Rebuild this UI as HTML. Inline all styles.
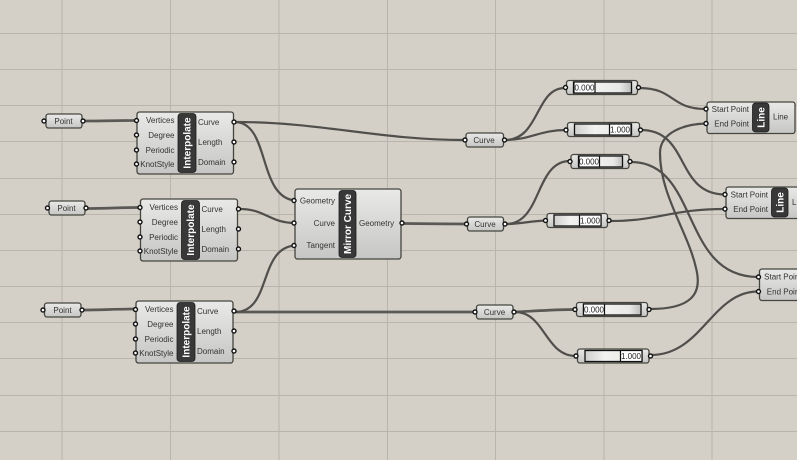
<!DOCTYPE html>
<html><head><meta charset="utf-8">
<style>
html,body{margin:0;padding:0;background:#d4d0c8;width:797px;height:460px;overflow:hidden}
svg{display:block}
text{font-family:"Liberation Sans",sans-serif;font-size:8px;fill:#333}
.r{text-anchor:end}
.c{text-anchor:middle}
.t{fill:#fff;font-weight:bold;font-size:10px;text-anchor:middle}
.v{font-size:8px;fill:#222;text-anchor:middle}
.g path{stroke:#b8b5ad;stroke-width:1;fill:none}
.w path{fill:none;stroke:#504f4c;stroke-width:2.2}
.th path{fill:none;stroke:#5a5955;stroke-width:2.7}
.p circle{fill:#fff;stroke:#111;stroke-width:1.4}
.b{fill:url(#gb);stroke:#45453f;stroke-width:1.3}
.d{fill:#383838;stroke:#1c1c1c;stroke-width:.8}
.sb{fill:url(#sl);stroke:#111;stroke-width:1.3}
.vb{fill:#fff;stroke:#111;stroke-width:1.2}
</style></head><body>
<svg width="797" height="460" viewBox="0 0 797 460" xmlns="http://www.w3.org/2000/svg">
<defs>
<linearGradient id="gb" x1="0" y1="0" x2="0" y2="1"><stop offset="0" stop-color="#e9e9e7"/><stop offset="1" stop-color="#c6c6c4"/></linearGradient>
<linearGradient id="sl" x1="0" y1="0" x2="1" y2="0"><stop offset="0" stop-color="#cfcfcd"/><stop offset=".35" stop-color="#f2f2f0"/><stop offset=".8" stop-color="#e8e8e6"/><stop offset="1" stop-color="#bdbdbb"/></linearGradient>
</defs>
<rect width="797" height="460" fill="#d4d0c8"/>
<g class="g">
<path d="M62 0V460M170.500 0V460M279 0V460M387.500 0V460M495.500 0V460M604 0V460M712 0V460"/>
<path d="M0 33.500H797M0 69.500H797M0 105.500H797M0 141.500H797M0 178.500H797M0 214.500H797M0 250.500H797M0 286.500H797M0 322.500H797M0 358.500H797M0 395.500H797M0 431.500H797"/>
</g>
<g class="th">
<path d="M84 121C105 121 115 120.500 136 120.500"/>
<path d="M87 208.500C108 208.500 118 207.500 139 207.500"/>
<path d="M83 310C104 310 114 309 135 309"/>
<path d="M235 312H475"/>
<path d="M403 223.500C425 223.500 445 224 466 224"/>
<path d="M515 312C535 311 555 309.500 575 309.500"/>
</g>
<g class="w">
<path d="M236 122C270 124 258 197 295 200.500"/>
<path d="M236 122C320 122 380 140 464 140"/>
<path d="M240 209C265 209 270 223 295 223"/>
<path d="M235 312C272 312 258 248 295 245.500"/>
<path d="M505 140C540 140 535 88 565 88"/>
<path d="M505 140C530 140 540 130 566 130"/>
<path d="M506 224C542 224 535 161 570 161"/>
<path d="M506 224C520 224 530 221 546 220.500"/>
<path d="M515 312C545 312 545 356 576 356"/>
<path d="M639 88C675 88 670 109 706 109"/>
<path d="M641 130C690 130 675 194 725 194.500"/>
<path d="M631 162C700 162 680 277 758 277"/>
<path d="M610 221C660 221 670 209 725 209"/>
<path d="M651 355C702 355 712 291.500 758 291.500"/>
<path d="M650 309C690 309 703 295 696 268C688 232 660 195 660 153C660 132 685 124 706 123.500"/>
</g>

<!-- Point params -->
<rect class="b" x="46" y="114" width="36" height="14" rx="2.500"/><text class="c" x="63.500" y="124">Point</text>
<rect class="b" x="49" y="201" width="36" height="14" rx="2.500"/><text class="c" x="66.500" y="211">Point</text>
<rect class="b" x="44.500" y="303" width="36.500" height="14" rx="2.500"/><text class="c" x="62.500" y="313">Point</text>
<g class="p"><circle cx="44" cy="121" r="2"/><circle cx="83" cy="121" r="2"/><circle cx="47.500" cy="208" r="2"/><circle cx="86" cy="208" r="2"/><circle cx="43" cy="310" r="2"/><circle cx="82" cy="310" r="2"/></g>

<!-- Interpolate 1 -->
<g transform="translate(137 112)">
<rect class="b" x="0" y="0" width="96.500" height="62" rx="2.500"/>
<rect class="d" x="41" y="1.500" width="18" height="59" rx="3"/>
<text class="t" transform="translate(53.500 31) rotate(-90)">Interpolate</text>
<text class="r" x="37.500" y="11">Vertices</text><text class="r" x="37.500" y="26">Degree</text><text class="r" x="37.500" y="41">Periodic</text><text class="r" x="37.500" y="55">KnotStyle</text>
<text x="61" y="13">Curve</text><text x="61" y="33">Length</text><text x="61" y="53">Domain</text>
<g class="p"><circle cx="-.5" cy="8.500" r="2"/><circle cx="-.5" cy="23" r="2"/><circle cx="-.5" cy="38" r="2"/><circle cx="-.5" cy="52" r="2"/><circle cx="97" cy="10" r="2"/><circle cx="97" cy="30" r="2"/><circle cx="97" cy="50" r="2"/></g>
</g>
<!-- Interpolate 2 -->
<g transform="translate(140.500 199)">
<rect class="b" x="0" y="0" width="97" height="62" rx="2.500"/>
<rect class="d" x="41" y="1.500" width="18" height="59" rx="3"/>
<text class="t" transform="translate(53.500 31) rotate(-90)">Interpolate</text>
<text class="r" x="37.500" y="11">Vertices</text><text class="r" x="37.500" y="26">Degree</text><text class="r" x="37.500" y="41">Periodic</text><text class="r" x="37.500" y="55">KnotStyle</text>
<text x="61" y="13">Curve</text><text x="61" y="33">Length</text><text x="61" y="53">Domain</text>
<g class="p"><circle cx="-.5" cy="8.500" r="2"/><circle cx="-.5" cy="23" r="2"/><circle cx="-.5" cy="38" r="2"/><circle cx="-.5" cy="52" r="2"/><circle cx="98" cy="10" r="2"/><circle cx="98" cy="30" r="2"/><circle cx="98" cy="50" r="2"/></g>
</g>
<!-- Interpolate 3 -->
<g transform="translate(136 301)">
<rect class="b" x="0" y="0" width="97" height="62" rx="2.500"/>
<rect class="d" x="41" y="1.500" width="18" height="59" rx="3"/>
<text class="t" transform="translate(53.500 31) rotate(-90)">Interpolate</text>
<text class="r" x="37.500" y="11">Vertices</text><text class="r" x="37.500" y="26">Degree</text><text class="r" x="37.500" y="41">Periodic</text><text class="r" x="37.500" y="55">KnotStyle</text>
<text x="61" y="13">Curve</text><text x="61" y="33">Length</text><text x="61" y="53">Domain</text>
<g class="p"><circle cx="-.5" cy="8.500" r="2"/><circle cx="-.5" cy="23" r="2"/><circle cx="-.5" cy="38" r="2"/><circle cx="-.5" cy="52" r="2"/><circle cx="98" cy="10" r="2"/><circle cx="98" cy="30" r="2"/><circle cx="98" cy="50" r="2"/></g>
</g>
<!-- Mirror Curve -->
<rect class="b" x="295" y="189" width="106" height="70" rx="2.500"/>
<rect class="d" x="339" y="190.500" width="17" height="67" rx="3"/>
<text class="t" transform="translate(351 224) rotate(-90)">Mirror Curve</text>
<text class="r" x="335" y="203.500">Geometry</text><text class="r" x="335" y="226">Curve</text><text class="r" x="335" y="248">Tangent</text>
<text x="359" y="226">Geometry</text>
<g class="p"><circle cx="294" cy="200.500" r="2"/><circle cx="294" cy="223" r="2"/><circle cx="294" cy="245.500" r="2"/><circle cx="402" cy="223" r="2"/></g>

<!-- Curve params -->
<rect class="b" x="466" y="133" width="37.500" height="14" rx="2.500"/><text class="c" x="484" y="143">Curve</text>
<rect class="b" x="467.500" y="217" width="36" height="14" rx="2.500"/><text class="c" x="485" y="227">Curve</text>
<rect class="b" x="476.500" y="305" width="36.500" height="14" rx="2.500"/><text class="c" x="494.500" y="315">Curve</text>
<g class="p"><circle cx="465" cy="140" r="2"/><circle cx="504.500" cy="140" r="2"/><circle cx="466.500" cy="224" r="2"/><circle cx="505" cy="224" r="2"/><circle cx="475" cy="312" r="2"/><circle cx="514" cy="312" r="2"/></g>

<!-- Sliders -->
<rect class="b" x="566.500" y="80.500" width="71" height="14" rx="2.500"/><rect class="sb" x="573.500" y="82" width="58" height="11"/><rect class="vb" x="574" y="82" width="21" height="11"/><text class="v" x="584.500" y="90.500">0.000</text>
<rect class="b" x="567.500" y="122.500" width="72" height="14" rx="2.500"/><rect class="sb" x="574.500" y="124" width="57" height="11"/><rect class="vb" x="609.500" y="124" width="21.500" height="11"/><text class="v" x="620" y="132.500">1.000</text>
<rect class="b" x="571" y="154.500" width="58" height="14" rx="2.500"/><rect class="sb" x="578.500" y="156" width="44" height="11"/><rect class="vb" x="579" y="156" width="20.500" height="11"/><text class="v" x="589" y="164.500">0.000</text>
<rect class="b" x="547" y="213.500" width="60.500" height="14" rx="2.500"/><rect class="sb" x="554" y="215" width="47" height="11"/><rect class="vb" x="579.500" y="215" width="21.500" height="11"/><text class="v" x="590" y="223.500">1.000</text>
<rect class="b" x="576.500" y="302.500" width="71" height="14" rx="2.500"/><rect class="sb" x="583.500" y="304" width="57.500" height="11"/><rect class="vb" x="583.500" y="304" width="21" height="11"/><text class="v" x="594" y="312.500">0.000</text>
<rect class="b" x="577.500" y="349" width="71.500" height="14" rx="2.500"/><rect class="sb" x="585" y="350.500" width="57" height="11"/><rect class="vb" x="620.500" y="350.500" width="21.500" height="11"/><text class="v" x="631" y="359">1.000</text>
<g class="p"><circle cx="565.500" cy="87.500" r="2"/><circle cx="638.500" cy="87.500" r="2"/><circle cx="566" cy="130" r="2"/><circle cx="640.500" cy="130" r="2"/><circle cx="570" cy="161.500" r="2"/><circle cx="630" cy="161.500" r="2"/><circle cx="545.500" cy="220.500" r="2"/><circle cx="609" cy="220.500" r="2"/><circle cx="575" cy="309.500" r="2"/><circle cx="649" cy="309.500" r="2"/><circle cx="576" cy="356" r="2"/><circle cx="650.500" cy="356" r="2"/></g>

<!-- Line 1 -->
<rect class="b" x="707" y="102" width="88" height="31.500" rx="2.500"/>
<rect class="d" x="752.500" y="103" width="16.500" height="29" rx="3"/>
<text class="t" transform="translate(764.500 117.500) rotate(-90)">Line</text>
<text class="r" x="749" y="112">Start Point</text><text class="r" x="749" y="126.500">End Point</text>
<text x="773" y="119.500">Line</text>
<!-- Line 2 -->
<rect class="b" x="726" y="187" width="88" height="31.500" rx="2.500"/>
<rect class="d" x="771.500" y="188" width="16.500" height="29" rx="3"/>
<text class="t" transform="translate(783.500 202.500) rotate(-90)">Line</text>
<text class="r" x="768" y="197.500">Start Point</text><text class="r" x="768" y="212">End Point</text>
<text x="792" y="205">Line</text>
<!-- Line 3 -->
<rect class="b" x="759.500" y="269" width="88" height="31.500" rx="2.500"/>
<text class="r" x="801.500" y="279.500">Start Point</text><text class="r" x="801.500" y="294.500">End Point</text>
<g class="p"><circle cx="706" cy="109" r="2"/><circle cx="706" cy="123.500" r="2"/><circle cx="725" cy="194.500" r="2"/><circle cx="725" cy="209" r="2"/><circle cx="758.500" cy="277" r="2"/><circle cx="758.500" cy="291.500" r="2"/></g>
</svg>
</body></html>
